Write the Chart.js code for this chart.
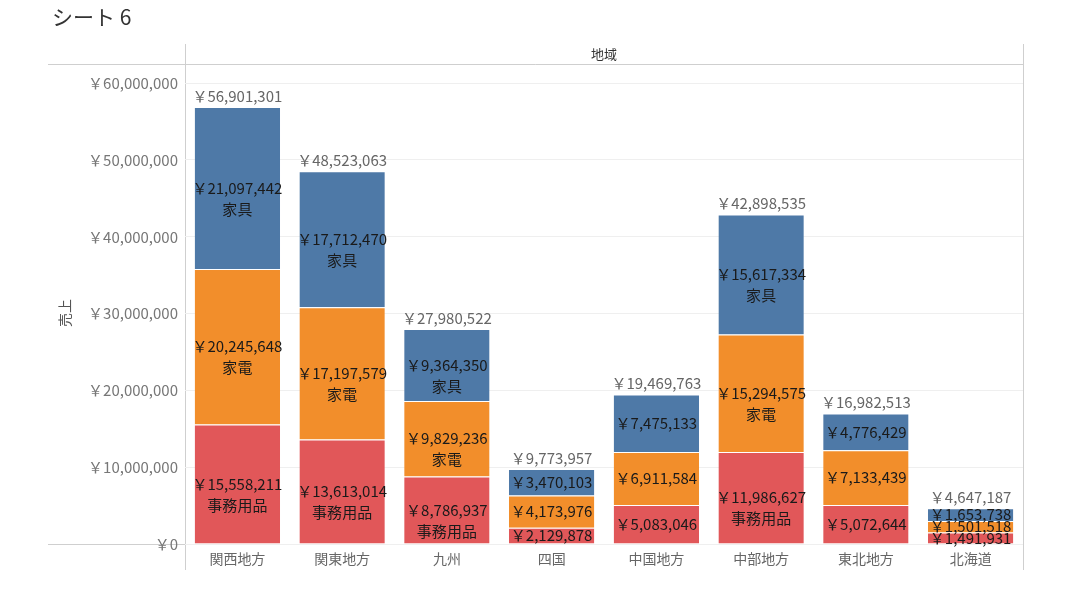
<!DOCTYPE html>
<html>
<head>
<meta charset="utf-8">
<script src="https://cdn.jsdelivr.net/npm/chart.js@4/dist/chart.umd.min.js"></script>
<style>
  html, body { margin: 0; padding: 0; background: #fff; }
  #wrap { width: 1071px; height: 603px; position: relative; }
</style>
</head>
<body>
<div id="wrap"><canvas id="c" width="1071" height="603"></canvas></div>
<script>
const chartTitle = 'シート 6';
const headerTitle = '地域';
const yAxisTitle = '売上';
const categories = ['関西地方', '関東地方', '九州', '四国', '中国地方', '中部地方', '東北地方', '北海道'];
const seriesNames = ['事務用品', '家電', '家具'];
const officeSupplies = [15558211, 13613014, 8786937, 2129878, 5083046, 11986627, 5072644, 1491931];
const appliances = [20245648, 17197579, 9829236, 4173976, 6911584, 15294575, 7133439, 1501518];
const furniture = [21097442, 17712470, 9364350, 3470103, 7475133, 15617334, 4776429, 1653738];
const totals = [56901301, 48523063, 27980522, 9773957, 19469763, 42898535, 16982513, 4647187];
const yTickValues = [0, 10000000, 20000000, 30000000, 40000000, 50000000, 60000000];
const seriesColors = ['#e15759', '#f28e2b', '#4e79a7'];

const FONT = '"Noto Sans CJK JP", "Noto Sans", sans-serif';
const fmt = v => '￥' + Math.round(v).toLocaleString('en-US');

const decorPlugin = {
  id: 'decor',
  beforeDraw(chart) {
    const ctx = chart.ctx;
    const ca = chart.chartArea;
    ctx.save();
    // title
    ctx.fillStyle = '#333';
    ctx.font = '21px ' + FONT;
    ctx.textAlign = 'left';
    ctx.textBaseline = 'middle';
    ctx.fillText(chartTitle, 52, 17);
    // frame lines
    ctx.strokeStyle = '#cfcfcf';
    ctx.lineWidth = 1;
    ctx.beginPath();
    ctx.moveTo(48, 64.5); ctx.lineTo(ca.right + 0.5, 64.5);
    ctx.moveTo(48, ca.bottom + 0.5); ctx.lineTo(ca.right + 0.5, ca.bottom + 0.5);
    ctx.moveTo(ca.left + 0.5, 44); ctx.lineTo(ca.left + 0.5, 570);
    ctx.moveTo(ca.right + 0.5, 44); ctx.lineTo(ca.right + 0.5, 570);
    ctx.stroke();
    // header
    ctx.fillStyle = '#333';
    ctx.font = '13px ' + FONT;
    ctx.textAlign = 'center';
    ctx.fillText(headerTitle, (ca.left + ca.right) / 2, 54);
    // y axis title
    ctx.save();
    ctx.translate(65, 313);
    ctx.rotate(-Math.PI / 2);
    ctx.fillStyle = '#555';
    ctx.font = '14px ' + FONT;
    ctx.fillText(yAxisTitle, 0, 0);
    ctx.restore();
    ctx.restore();
  },
  afterDatasetsDraw(chart) {
    const ctx = chart.ctx;
    ctx.save();
    ctx.textAlign = 'center';
    ctx.textBaseline = 'middle';
    ctx.font = '15px ' + FONT;
    chart.data.datasets.forEach((ds, di) => {
      const meta = chart.getDatasetMeta(di);
      meta.data.forEach((el, i) => {
        const v = ds.data[i];
        const cy = (el.y + el.base) / 2;
        ctx.fillStyle = '#1a1a1a';
        ctx.fillText(fmt(v), el.x, cy);
        if (v >= 8000000) {
          ctx.fillText(ds.label, el.x, cy + 21);
        }
      });
    });
    // totals
    const topMeta = chart.getDatasetMeta(chart.data.datasets.length - 1);
    const yScale = chart.scales.y;
    ctx.fillStyle = '#666';
    topMeta.data.forEach((el, i) => {
      const y = yScale.getPixelForValue(totals[i]);
      ctx.fillText(fmt(totals[i]), el.x, y - 11);
    });
    ctx.restore();
  }
};

new Chart(document.getElementById('c'), {
  type: 'bar',
  data: {
    labels: categories,
    datasets: [
      { label: seriesNames[0], data: officeSupplies, backgroundColor: seriesColors[0] },
      { label: seriesNames[1], data: appliances, backgroundColor: seriesColors[1] },
      { label: seriesNames[2], data: furniture, backgroundColor: seriesColors[2] }
    ].map(d => Object.assign(d, {
      borderColor: 'rgba(255,255,255,0.75)',
      borderWidth: { top: 1, bottom: 0, left: 0, right: 0 },
      borderSkipped: false,
      categoryPercentage: 0.815,
      barPercentage: 1
    }))
  },
  options: {
    responsive: false,
    animation: false,
    devicePixelRatio: 1,
    layout: { padding: { top: 64, right: 48, left: 0, bottom: 0 } },
    plugins: { legend: { display: false }, tooltip: { enabled: false }, title: { display: false } },
    scales: {
      x: {
        stacked: true,
        grid: { display: false, drawTicks: false },
        border: { display: false },
        ticks: { color: '#666', font: { family: FONT, size: 14 }, padding: 6 },
        afterFit(scale) { scale.height = 59; }
      },
      y: {
        stacked: true,
        min: 0,
        max: 62500000,
        grid: { color: '#efefef', drawTicks: false },
        border: { display: false },
        ticks: {
          stepSize: 10000000,
          color: '#777',
          font: { family: FONT, size: 15 },
          padding: 7,
          callback: v => fmt(v)
        },
        afterBuildTicks(scale) {
          scale.ticks = yTickValues.map(v => ({ value: v }));
        },
        afterFit(scale) { scale.width = 185; }
      }
    }
  },
  plugins: [decorPlugin]
});
</script>
</body>
</html>
